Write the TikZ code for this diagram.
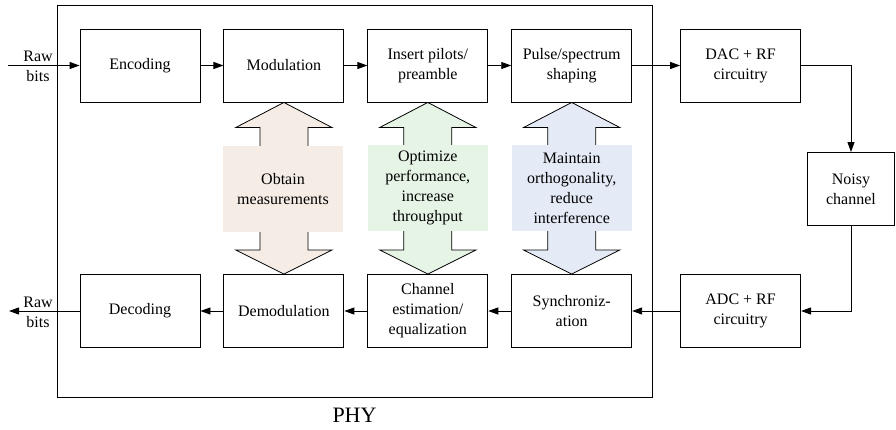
\documentclass[tikz,border=0pt]{standalone}
\usepackage{xcolor}
\usepackage{fontspec}
\setmainfont{Liberation Serif}
\usepackage{tikz}
\usetikzlibrary{positioning}
\usetikzlibrary{calc}
\usetikzlibrary{arrows.meta}

\definecolor{measfill}{RGB}{245,236,229}
\definecolor{perffill}{RGB}{230,244,229}
\definecolor{orthfill}{RGB}{229,235,246}

\begin{document}
\begin{tikzpicture}[
	x=1pt,y=-1pt,
	line width=0.9pt,
	font=\rmfamily\fontsize{16}{20}\selectfont,
	>={Triangle[length=10pt,width=7pt]}
]
\tikzset{
    blocknode/.style = {rectangle, draw=black, align=center, fill=white, minimum width=120pt, minimum height=73pt, inner sep=2pt},
		labelbox/.style = {rectangle, draw=none, align=center, minimum width=120pt, minimum height=86pt, inner sep=0pt},
		flowline/.style = {->}
}
\useasboundingbox (0,0) rectangle (896,429);
% PHY frame
\node[rectangle, draw=black, minimum width=595pt, minimum height=392pt] (phy) at (354.5,201) {};
\node (phylabel) at (354.5,415) {\fontsize{22}{26}\selectfont PHY};
% transmit chain
\node[blocknode] (enc) at (140,65.5) {Encoding};
\node[blocknode, right=23pt of enc] (mod) {Modulation};
\node[blocknode, right=23pt of mod] (pilots) {Insert pilots/\\preamble};
\node[blocknode, right=23pt of pilots] (pulse) {Pulse/spectrum\\shaping};
\node[blocknode, right=48pt of pulse] (dac) {DAC + RF\\circuitry};
\node[blocknode, minimum width=87pt] (noisy) at (851,189) {Noisy\\channel};
% receive chain
\node[blocknode] (dec) at (140,311) {Decoding};
\node[blocknode, right=23pt of dec] (demod) {Demodulation};
\node[blocknode, right=23pt of demod] (chest) {Channel\\estimation/\\equalization};
\node[blocknode, right=23pt of chest] (sync) {Synchroniz-\\ation};
\node[blocknode, right=48pt of sync] (adc) {ADC + RF\\circuitry};
% raw bits in and out
\coordinate (bitsin) at (8,65.5);
\coordinate (bitsout) at (9,311);
\node[align=center] (rawin) at (38,66) {Raw\\bits};
\node[align=center] (rawout) at (38,312) {Raw\\bits};
\draw[flowline] (bitsin) -- (enc);
\draw[flowline] (enc) -- (mod);
\draw[flowline] (mod) -- (pilots);
\draw[flowline] (pilots) -- (pulse);
\draw[flowline] (pulse) -- (dac);
\draw[flowline] (dac.east) -| (noisy.north);
\draw[flowline] (noisy.south) |- (adc.east);
\draw[flowline] (adc) -- (sync);
\draw[flowline] (sync) -- (chest);
\draw[flowline] (chest) -- (demod);
\draw[flowline] (demod) -- (dec);
\draw[flowline] (dec) -- (bitsout);
% double arrows between the chains
\foreach \up/\down/\col in {mod/demod/measfill, pilots/chest/perffill, pulse/sync/orthfill}{
	\filldraw[fill=\col, line width=0.8pt] (\up.south) -- ++(48,25) -- ++(-24,0)
		-- ($(\down.north)+(24,-24)$) -- ++(24,0) -- (\down.north)
		-- ++(-48,-24) -- ++(24,0) -- ($(\up.south)+(-24,25)$) -- ++(-24,0) -- cycle;
}
\node[labelbox, fill=measfill] (measlabel) at (283,189) {Obtain\\measurements};
\node[labelbox, fill=perffill] (perflabel) at ($(pilots.south)!0.5!(chest.north)$) {Optimize\\performance,\\increase\\throughput};
\node[labelbox, fill=orthfill] (orthlabel) at ($(pulse.south)!0.5!(sync.north)$) {Maintain\\orthogonality,\\reduce\\interference};
\end{tikzpicture}
\end{document}
